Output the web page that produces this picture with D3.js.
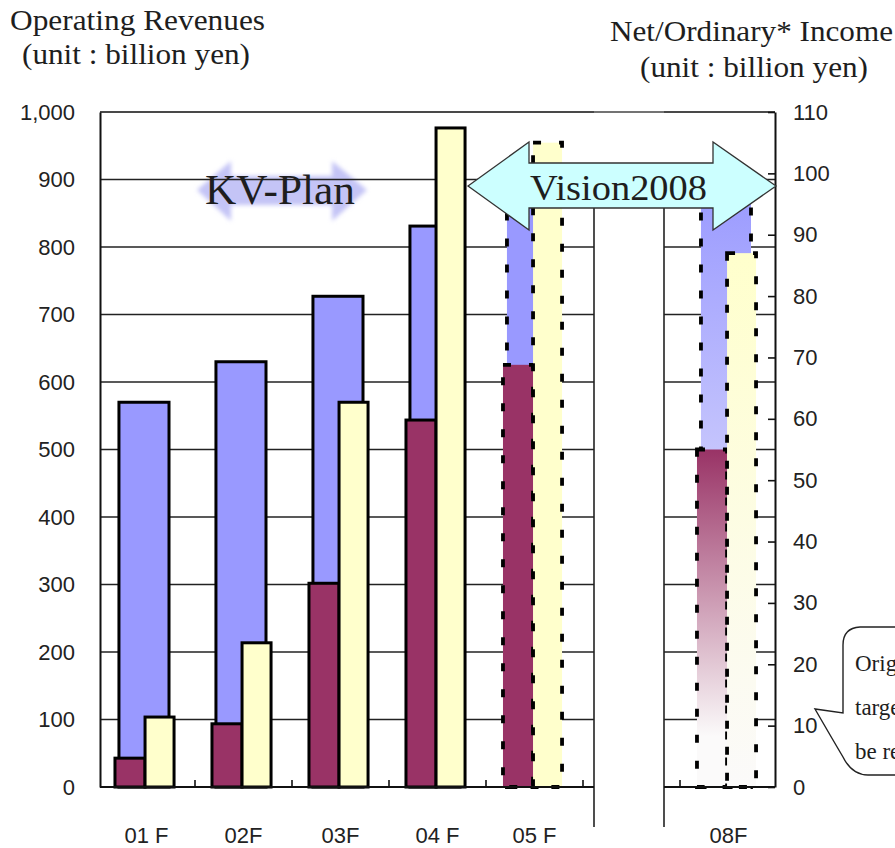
<!DOCTYPE html>
<html>
<head>
<meta charset="utf-8">
<script src="https://cdn.jsdelivr.net/npm/d3@7"></script>
<style>
  body { margin: 0; background: #fff; }
  svg { display: block; }
  .tick text { font-family: "Liberation Sans", Arial, sans-serif; font-size: 22px; fill: #222; }
  .serif { font-family: "Liberation Serif", "Times New Roman", serif; fill: #1e1e1e; }
</style>
</head>
<body>
<svg id="chart" width="895" height="848"></svg>
<script>
// fiscal years (06F and 07F are cut out of the chart)
const categories = ["01F", "02F", "03F", "04F", "05F", "08F"];
const tickLabels = ["01 F", "02F", "03F", "04 F", "05 F", "08F"];
const planYears = ["05F", "08F"];
const targetYear = "08F";

// operating revenues (billion yen, left axis)
const revenues = [570, 630, 727, 831, 900, 900];
// net income and ordinary income (billion yen, right axis)
const netIncome = [4.7, 10.3, 33.2, 59.8, 68.8, 55];
const ordinaryIncome = [11.4, 23.5, 62.7, 107.4, 105, 87];

const leftTicks = [0, 100, 200, 300, 400, 500, 600, 700, 800, 900, 1000];
const rightTicks = [0, 10, 20, 30, 40, 50, 60, 70, 80, 90, 100, 110];

// plot area, the cut between 05F and 08F
const plot = {left: 100, right: 775, top: 112, bottom: 787};
const cut = {x0: 594, x1: 664};

const svg = d3.select("#chart");
const defs = svg.append("defs");

// x slots, one empty slot stands for the cut years
const xSlots = ["01F", "02F", "03F", "04F", "05F", "cut", "08F"];
const x = d3.scaleBand()
  .domain(xSlots)
  .range([98, 777]);

const yL = d3.scaleLinear().domain([0, 1000]).range([plot.bottom, plot.top]);
const yR = d3.scaleLinear().domain([0, 110]).range([plot.bottom, plot.top]);

// soft arrow behind the KV-Plan text
defs.append("filter").attr("id", "soft")
  .append("feGaussianBlur").attr("stdDeviation", 2);

svg.append("polygon")
  .attr("points", "197,190 231,161 231,176 332,176 332,161 367,190 332,221 332,205 231,205 231,221")
  .attr("fill", "#c4c4f6")
  .attr("filter", "url(#soft)");

// gridlines, split by the cut
const segments = [[plot.left, cut.x0], [cut.x1, plot.right]];
const grid = svg.append("g");
segments.forEach(s => {
  grid.selectAll(null)
    .data(leftTicks)
    .join("line")
      .attr("x1", s[0]).attr("x2", s[1])
      .attr("y1", d => yL(d)).attr("y2", d => yL(d))
      .attr("stroke", "#222")
      .attr("stroke-width", 1.4);
});
grid.append("line")
  .attr("x1", plot.left).attr("x2", plot.right)
  .attr("y1", plot.top).attr("y2", plot.top)
  .attr("stroke", "#444").attr("stroke-width", 1.4);

// break lines on both sides of the cut
svg.append("g").selectAll("line")
  .data([cut.x0, cut.x1])
  .join("line")
    .attr("x1", d => d).attr("x2", d => d)
    .attr("y1", 185).attr("y2", 827)
    .attr("stroke", "#222").attr("stroke-width", 1.6);

// fading fills for the target year
const fades = [
  {key: "rev", color: "#9999ff"},
  {key: "net", color: "#993366"},
  {key: "ord", color: "#ffffcc"}
];
fades.forEach(f => {
  const g = defs.append("linearGradient")
    .attr("id", "fade-" + f.key)
    .attr("x1", 0).attr("y1", 0).attr("x2", 0).attr("y2", 1);
  g.append("stop").attr("offset", "0%").attr("stop-color", f.color);
  g.append("stop").attr("offset", f.key === "net" ? "85%" : "100%").attr("stop-color", "#fbfafa");
});

// bars: revenues first, incomes in front
const series = [
  {key: "rev", values: revenues, scale: yL, fill: "#9999ff", from: 0.216, to: 0.732},
  {key: "net", values: netIncome, scale: yR, fill: "#993366", from: 0.175, to: 0.485},
  {key: "ord", values: ordinaryIncome, scale: yR, fill: "#ffffcc", from: 0.485, to: 0.784}
];

series.forEach(s => {
  const bw = x.bandwidth();
  svg.append("g")
    .selectAll("rect")
    .data(categories.map((c, i) => ({cat: c, v: s.values[i]})))
    .join("rect")
      .attr("x", d => x(d.cat) + s.from * bw)
      .attr("width", (s.to - s.from) * bw)
      .attr("y", d => s.scale(d.v))
      .attr("height", d => s.scale(0) - s.scale(d.v))
      .attr("fill", d => d.cat === targetYear ? `url(#fade-${s.key})` : s.fill)
      .attr("stroke", "#000")
      .attr("stroke-width", d => planYears.includes(d.cat) ? 3.8 : 3)
      .attr("stroke-dasharray", d => planYears.includes(d.cat) ? "8,18" : null);
});

// x axis line and inner ticks
const xa = svg.append("g");
segments.forEach(s => {
  xa.append("line")
    .attr("x1", s[0]).attr("x2", s[1])
    .attr("y1", plot.bottom).attr("y2", plot.bottom)
    .attr("stroke", "#111").attr("stroke-width", 2);
});
const bounds = categories.slice(0, 5).map(c => x(c) + x.step()).concat([x(targetYear)]);
xa.selectAll(".xt")
  .data(bounds)
  .join("line")
    .attr("x1", d => d).attr("x2", d => d)
    .attr("y1", plot.bottom).attr("y2", plot.bottom - 7)
    .attr("stroke", "#111").attr("stroke-width", 1.6);

svg.append("g")
  .attr("transform", `translate(0,${plot.bottom})`)
  .call(d3.axisBottom(x)
    .tickValues(categories)
    .tickFormat((d, i) => tickLabels[i])
    .tickSize(0)
    .tickPadding(40))
  .call(g => g.select(".domain").remove());

// left axis
svg.append("g")
  .attr("transform", `translate(${plot.left},0)`)
  .call(d3.axisLeft(yL)
    .tickValues(leftTicks)
    .tickFormat(d3.format(","))
    .tickSize(0)
    .tickSizeOuter(0)
    .tickPadding(25))
  .call(g => g.select(".domain").attr("stroke", "#111").attr("stroke-width", 2));

// right axis, ticks point inward
svg.append("g")
  .attr("transform", `translate(${plot.right},0)`)
  .call(d3.axisRight(yR)
    .tickValues(rightTicks)
    .tickSize(-7)
    .tickSizeOuter(0)
    .tickPadding(18))
  .call(g => g.select(".domain").attr("stroke", "#111").attr("stroke-width", 2))
  .call(g => g.selectAll(".tick line").attr("stroke", "#111").attr("stroke-width", 1.6));

// KV-Plan label
svg.append("text")
  .attr("class", "serif")
  .attr("x", 205).attr("y", 204)
  .attr("font-size", 42)
  .attr("textLength", 150)
  .attr("lengthAdjust", "spacingAndGlyphs")
  .attr("fill", "#111")
  .text("KV-Plan");

// Vision2008 arrow
svg.append("polygon")
  .attr("points", "468,186 529,142 529,163 713,163 713,142 776,186 713,230 713,208 529,208 529,230")
  .attr("fill", "#ccffff")
  .attr("stroke", "#333")
  .attr("stroke-width", 1.3);

svg.append("text")
  .attr("class", "serif")
  .attr("x", 530).attr("y", 200)
  .attr("font-size", 36)
  .attr("textLength", 177)
  .attr("lengthAdjust", "spacingAndGlyphs")
  .attr("fill", "#1c3030")
  .text("Vision2008");

// axis titles
const titles = [
  {text: "Operating Revenues", x: 10, y: 30, len: 255},
  {text: "(unit : billion yen)", x: 22, y: 64, len: 228},
  {text: "Net/Ordinary* Income", x: 610, y: 41, len: 283},
  {text: "(unit : billion yen)", x: 640, y: 77, len: 228}
];
svg.append("g").selectAll("text")
  .data(titles)
  .join("text")
    .attr("class", "serif")
    .attr("x", d => d.x).attr("y", d => d.y)
    .attr("font-size", 29)
    .attr("textLength", d => d.len)
    .attr("lengthAdjust", "spacingAndGlyphs")
    .text(d => d.text);

// callout on the right edge
svg.append("path")
  .attr("d", "M900,627 H860 Q843,628 843,645 V713 L815,709 Q830,735 843,757 Q852,775 868,775 H900")
  .attr("fill", "#fff")
  .attr("stroke", "#222")
  .attr("stroke-width", 1.4);

svg.append("g").selectAll("text")
  .data(["Original", "target will", "be reached"])
  .join("text")
    .attr("class", "serif")
    .attr("x", 855)
    .attr("y", (d, i) => 671 + i * 44)
    .attr("font-size", 23)
    .text(d => d);
</script>
</body>
</html>
